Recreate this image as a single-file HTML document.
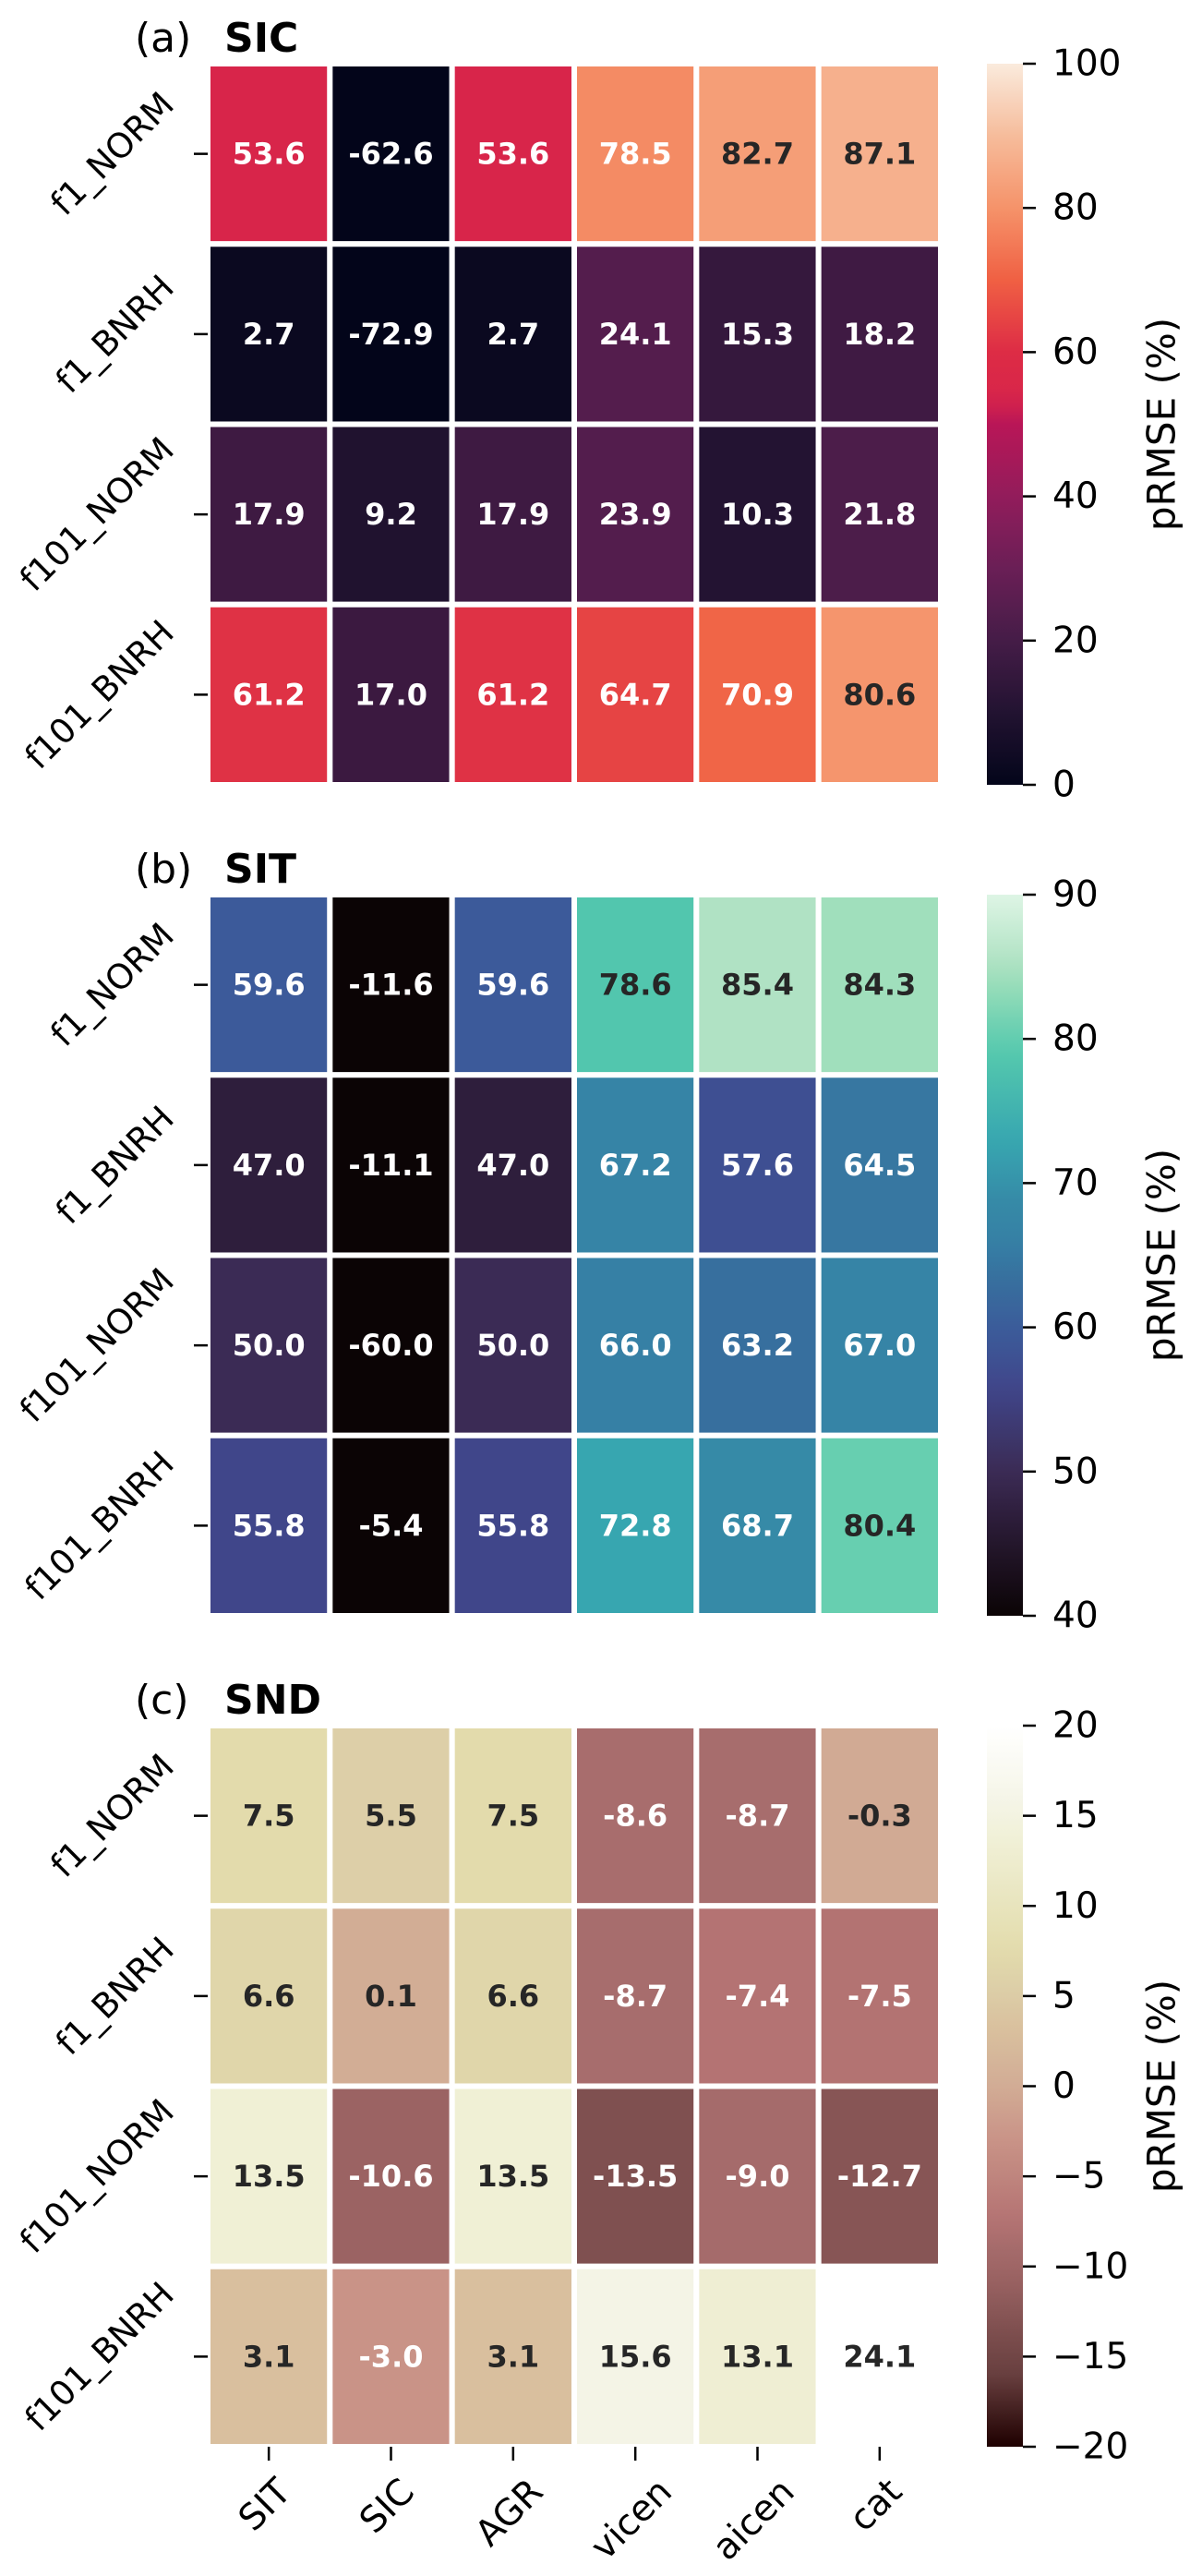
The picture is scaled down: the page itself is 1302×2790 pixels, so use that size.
<!DOCTYPE html>
<html><head><meta charset="utf-8">
<style>
html,body{margin:0;padding:0;background:#fff;}
svg{display:block;font-family:"DejaVu Sans","Liberation Sans",sans-serif;}
</style></head>
<body>
<svg id="fig" width="1302" height="2790" viewBox="0 0 1302 2790" xmlns="http://www.w3.org/2000/svg">
<rect width="1302" height="2790" fill="#fff"/>
</svg>
<script>
const rowLabels = ["f1_NORM","f1_BNRH","f101_NORM","f101_BNRH"];
const colLabels = ["SIT","SIC","AGR","vicen","aicen","cat"];
const sicValues = [
  [53.6,-62.6,53.6,78.5,82.7,87.1],
  [2.7,-72.9,2.7,24.1,15.3,18.2],
  [17.9,9.2,17.9,23.9,10.3,21.8],
  [61.2,17.0,61.2,64.7,70.9,80.6]];
const sitValues = [
  [59.6,-11.6,59.6,78.6,85.4,84.3],
  [47.0,-11.1,47.0,67.2,57.6,64.5],
  [50.0,-60.0,50.0,66.0,63.2,67.0],
  [55.8,-5.4,55.8,72.8,68.7,80.4]];
const sndValues = [
  [7.5,5.5,7.5,-8.6,-8.7,-0.3],
  [6.6,0.1,6.6,-8.7,-7.4,-7.5],
  [13.5,-10.6,13.5,-13.5,-9.0,-12.7],
  [3.1,-3.0,3.1,15.6,13.1,24.1]];
const sicTicks = [0,20,40,60,80,100];
const sitTicks = [40,50,60,70,80,90];
const sndTicks = [-20,-15,-10,-5,0,5,10,15,20];

const rocket = [[0,"#03051a"],[0.1,"#221331"],[0.2,"#451c47"],[0.3,"#6a1f56"],[0.4,"#921c5b"],[0.5,"#b91657"],[0.536,"#d8254a"],[0.6,"#dd2c45"],[0.7,"#f06043"],[0.8,"#f5936a"],[0.9,"#f6bc9b"],[1,"#faebdd"]];
const mako = [[0,"#0b0405"],[0.14,"#2e1e3c"],[0.2,"#3b2b55"],[0.316,"#40468a"],[0.392,"#3c5a9a"],[0.464,"#376f9e"],[0.52,"#3680a5"],[0.574,"#368aa7"],[0.656,"#37a6b0"],[0.772,"#52c6ae"],[0.808,"#67cfb0"],[0.886,"#a0dfbc"],[0.908,"#b0e2c4"],[1,"#def5e5"]];
const pinkmap = [[0,"#1e0000"],[0.1,"#683f3f"],[0.16,"#7e4f4f"],[0.235,"#9b6363"],[0.285,"#a86d6d"],[0.31,"#b37272"],[0.425,"#c99387"],[0.5,"#d2ac95"],[0.58,"#d9c09e"],[0.64,"#ddd0a8"],[0.69,"#e3dcac"],[0.84,"#f0f0d6"],[0.89,"#f4f4e6"],[1,"#ffffff"]];

const NS="http://www.w3.org/2000/svg";
const svg=document.getElementById('fig');
function hex(h){return [parseInt(h.substr(1,2),16),parseInt(h.substr(3,2),16),parseInt(h.substr(5,2),16)];}
function cmap(stops,t){
  t=Math.max(0,Math.min(1,t));
  for(let i=1;i<stops.length;i++){
    if(t<=stops[i][0]){
      const a=stops[i-1],b=stops[i];const f=(t-a[0])/(b[0]-a[0]||1);
      const ca=hex(a[1]),cb=hex(b[1]);
      return ca.map((v,k)=>Math.round(v+(cb[k]-v)*f));
    }
  }
  return hex(stops[stops.length-1][1]);
}
function lum(c){const l=c.map(v=>{v/=255;return v<=0.03928?v/12.92:Math.pow((v+0.055)/1.055,2.4);});return 0.2126*l[0]+0.7152*l[1]+0.0722*l[2];}
function el(tag,attrs,parent){const e=document.createElementNS(NS,tag);for(const k in attrs)e.setAttribute(k,attrs[k]);(parent||svg).appendChild(e);return e;}

const X0=225,X1=1019,CBX0=1069,CBX1=1108,H=781;
function panel(key,letter,title,top,values,vmin,vmax,stops,ticks,showX){
  const g=el('g',{});
  
  
  const cw=(X1-X0)/colLabels.length, rh=H/rowLabels.length;
  const xs=i=>X0+i*cw, ys=j=>top+j*rh;
  const t1=el('text',{x:146,y:top-13,'font-size':44,fill:'#000'},g);t1.textContent='('+letter+')';
  
  
  const t2=el('text',{x:243,y:top-13,'font-size':44,'font-weight':'bold',fill:'#000'},g);t2.textContent=title;
  
  
  values.forEach((row,j)=>row.forEach((v,i)=>{
    const c=cmap(stops,(v-vmin)/(vmax-vmin));
    const r=el('rect',{x:xs(i),y:ys(j),width:cw,height:rh,fill:'rgb('+c.join(',')+')',stroke:'#fff','stroke-width':6},g);
    
    
    const tx=el('text',{x:xs(i)+cw/2,y:ys(j)+rh/2,'font-size':32,'font-weight':'bold','text-anchor':'middle','dominant-baseline':'central',fill:lum(c)>0.408?'#262626':'#ffffff'},g);
    tx.textContent=v.toFixed(1);
    
    
  }));
  rowLabels.forEach((lab,j)=>{
    const cy=ys(j)+rh/2;
    el('line',{x1:210,x2:225,y1:cy,y2:cy,stroke:'#000','stroke-width':2.5},g);
    const t=el('text',{x:0,y:0,'font-size':37,'text-anchor':'middle','dominant-baseline':'central',fill:'#000'},g);
    t.textContent=lab;
    
    
    const L=t.getComputedTextLength();
    const bw=(L+37*0.95)/Math.SQRT2;
    const cx=194-bw/2;
    t.setAttribute('transform','translate('+cx+' '+cy+') rotate(-45)');
  });
  if(showX){
    colLabels.forEach((lab,i)=>{
      const cx=xs(i)+cw/2;
      el('line',{x1:cx,x2:cx,y1:top+H,y2:top+H+15,stroke:'#000','stroke-width':2.5},g);
      const t=el('text',{x:0,y:0,'font-size':39,'text-anchor':'middle','dominant-baseline':'central',fill:'#000'},g);
      t.textContent=lab;
      
      
      const L=t.getComputedTextLength();
      const bh=(L+39*0.95)/Math.SQRT2;
      const ty=top+H+29+bh/2;
      t.setAttribute('transform','translate('+(cx-4)+' '+ty+') rotate(-45)');
    });
  }
  const gid='grad-'+key;
  const defs=el('defs',{},g);
  const lg=el('linearGradient',{id:gid,x1:0,y1:1,x2:0,y2:0},defs);
  for(let k=0;k<=40;k++){const c=cmap(stops,k/40);el('stop',{offset:k/40,'stop-color':'rgb('+c.join(',')+')'},lg);}
  const cb=el('rect',{x:CBX0,y:top,width:CBX1-CBX0,height:H,fill:'url(#'+gid+')'},g);
  
  
  ticks.forEach(v=>{
    const y=top+(1-(v-vmin)/(vmax-vmin))*H;
    el('line',{x1:CBX1,x2:CBX1+14,y1:y,y2:y,stroke:'#000','stroke-width':2.5},g);
    const t=el('text',{x:1140,y:y,'font-size':39,'dominant-baseline':'central',fill:'#000'},g);
    t.textContent=(v<0?'\u2212'+Math.abs(v):String(v));
    
    
  });
  const cl=el('text',{x:1258,y:top+H/2,'font-size':42,'text-anchor':'middle','dominant-baseline':'central',fill:'#000',transform:'rotate(-90 1258 '+(top+H/2)+')'},g);
  cl.textContent='pRMSE (%)';
  
  
}
panel('sic','a','SIC',69,sicValues,0,100,rocket,sicTicks,false);
panel('sit','b','SIT',969,sitValues,40,90,mako,sitTicks,false);
panel('snd','c','SND',1869,sndValues,-20,20,pinkmap,sndTicks,true);
</script>
</body></html>
